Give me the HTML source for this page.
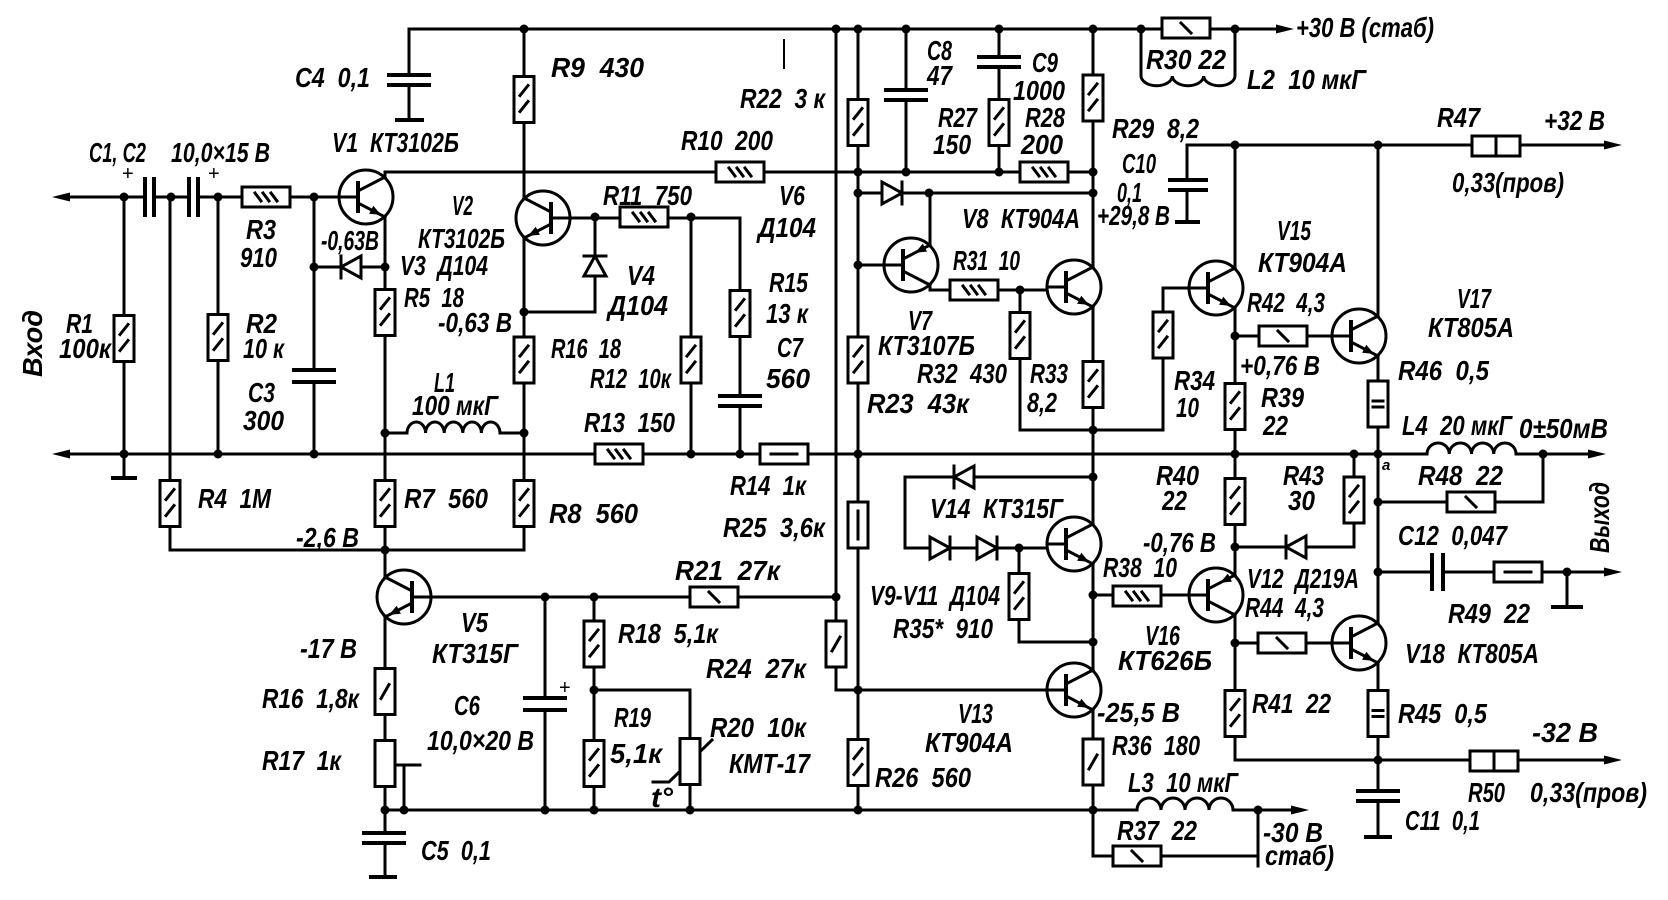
<!DOCTYPE html>
<html><head><meta charset="utf-8">
<style>
html,body{margin:0;padding:0;background:#fff;overflow:hidden;width:1668px;height:900px;}
svg{display:block}
.w{stroke:#000;stroke-width:3;fill:none;stroke-linecap:square}
.p{stroke:#000;stroke-width:4;fill:none}
.f{fill:#000;stroke:none}
.n{fill:#000;stroke:none}
text{font-family:"Liberation Sans","DejaVu Sans",sans-serif;font-style:italic;font-weight:bold;font-size:28px;fill:#000;stroke:none;white-space:pre}
</style></head>
<body>
<svg width="1668" height="900" viewBox="0 0 1668 900" xmlns="http://www.w3.org/2000/svg" xmlns:xlink="http://www.w3.org/1999/xlink">
<defs>
<g id="npn"><circle r="27" fill="none"/><path d="M-27,0H-8M-8,-6L19,-20M-8,6L19,20"/><path d="M-8,-14V14" stroke-width="4"/><polygon class="f" points="15,17.9 3.1,16.8 7.3,8.8"/></g>
<g id="pnp"><circle r="27" fill="none"/><path d="M-27,0H-8M-8,-6L19,-20M-8,6L19,20"/><path d="M-8,-14V14" stroke-width="4"/><polygon class="f" points="4.2,12.3 11.8,21.4 16,13.4"/></g>
<g id="rv"><rect x="-10" y="-23" width="20" height="46" fill="#fff"/></g>
<g id="rv2"><use href="#rv" xlink:href="#rv"/><path d="M-4,-4L4,-14M-4,12L4,2"/></g>
<g id="rv1"><use href="#rv" xlink:href="#rv"/><path d="M-4,7L4,-7"/></g>
<g id="rvI"><use href="#rv" xlink:href="#rv"/><path d="M0,-14V14"/></g>
<g id="rvE"><use href="#rv" xlink:href="#rv"/><path d="M-5,-3H5M-5,3H5"/></g>
<g id="rh"><rect x="-24" y="-10" width="48" height="20" fill="#fff"/></g>
<g id="rh3"><use href="#rh" xlink:href="#rh"/><path d="M-11,-4L-5,4M-3,-4L3,4M5,-4L11,4"/></g>
<g id="rh1"><use href="#rh" xlink:href="#rh"/><path d="M-5,-5L5,5"/></g>
<g id="rhI"><use href="#rh" xlink:href="#rh"/><path d="M0,-10V10"/></g>
<g id="rhL"><use href="#rh" xlink:href="#rh"/><path d="M-13,0H13"/></g>
<g id="dR"><polygon points="-10,-11 -10,11 10,0" fill="#fff"/><path d="M10,-11V11"/></g>
</defs>

<g class="w">
<!-- top rail -->
<path d="M409,29 H1276"/>
<!-- C4 -->
<path d="M409,29 V75 M409,85 V120"/>
<!-- R9 / V2 -->
<path d="M524,29 V198 M524,238 V550"/>
<path d="M524,312 H595 V218"/>
<path d="M570,218 H740 V396 M740,406 V454"/>
<path d="M691,218 V454"/>
<!-- input -->
<path d="M68,197 H145 M154,197 H189 M198,197 H339"/>
<path d="M124,197 V478"/>
<path d="M170,197 V550 H524"/>
<path d="M218,197 V454"/>
<path d="M314,197 V370 M314,382 V454"/>
<path d="M314,267 H385"/>
<!-- V1 -->
<path d="M385,177 V172 H1093"/>
<path d="M385,217 V577"/>
<path d="M385,433 H407 a9.3,11 0 0 1 18.6,0 a9.3,11 0 0 1 18.6,0 a9.3,11 0 0 1 18.6,0 a9.3,11 0 0 1 18.6,0 a9.3,11 0 0 1 18.6,0 H524"/>
<!-- V5 -->
<path d="M385,617 V810"/>
<path d="M395,765 H420 M404,765 V810"/>
<path d="M385,810 H1093"/>
<path d="M385,810 V833 M385,843 V877"/>
<path d="M431,597 H836"/>
<path d="M545,597 V698 M545,710 V810"/>
<path d="M594,597 V810"/>
<path d="M594,690 H690 V810"/>
<path d="M653,782 H669 L712,740"/>
<!-- verticals 836 / 858 -->
<path d="M836,29 V690 H858"/>
<path d="M858,29 V810"/>
<!-- middle rail -->
<path d="M68,454 H1427 a11.1,11 0 0 1 22.25,0 a11.1,11 0 0 1 22.25,0 a11.1,11 0 0 1 22.25,0 a11.1,11 0 0 1 22.25,0 H1590"/>
<!-- C8 C9 -->
<path d="M906,29 V90 M906,100 V172"/>
<path d="M999,29 V57 M999,67 V172"/>
<!-- R29 -->
<path d="M1093,29 V267"/>
<path d="M858,193 H1093"/>
<!-- V7 -->
<path d="M930,245 V193"/>
<path d="M858,265 H884"/>
<path d="M930,285 V290 H1047"/>
<path d="M1020,290 V430 H1163 V288 H1189"/>
<!-- V8 emitter chain to V14 -->
<path d="M1093,307 V524"/>
<path d="M1093,564 V670"/>
<path d="M1093,710 V856 H1258 V810 M1258,856 V866"/>
<path d="M1093,810 H1137 a12,12 0 0 1 24,0 a12,12 0 0 1 24,0 a12,12 0 0 1 24,0 a12,12 0 0 1 24,0 H1292"/>
<path d="M858,690 H1047"/>
<path d="M1093,477 H905 V548 H1047"/>
<path d="M1019,548 V642 H1093"/>
<path d="M1093,595 H1189"/>
<!-- +32 rail -->
<path d="M1187,180 V145 H1606"/>
<path d="M1187,190 V222"/>
<!-- V15 / V16 -->
<path d="M1235,145 V268 M1235,308 V575"/>
<path d="M1235,336 H1332"/>
<path d="M1378,145 V316 M1378,356 V623"/>
<path d="M1235,615 V760 H1606"/>
<path d="M1354,454 V547 H1235"/>
<path d="M1235,643 H1332"/>
<path d="M1378,663 V760 M1378,760 V791 M1378,801 V837"/>
<path d="M1378,502 H1543 V454"/>
<path d="M1378,572 H1432 M1443,572 H1606"/>
<path d="M1567,572 V607"/>
<!-- L2 -->
<path d="M1141,29 V76 a15.67,10 0 0 0 31.33,0 a15.67,10 0 0 0 31.33,0 a15.67,10 0 0 0 31.33,0 V29"/>
<!-- stray tick -->
<path d="M784,40 V68" stroke-width="2"/>
</g>

<!-- capacitor plates & grounds -->
<g class="p">
<path d="M387,75 H431 M387,85 H431 M395,120 H424"/>
<path d="M145,177 V217 M154,177 V217 M189,177 V217 M198,177 V217"/>
<path d="M111,478 H137"/>
<path d="M292,370 H336 M292,382 H336"/>
<path d="M718,396 H762 M718,406 H762"/>
<path d="M362,833 H406 M362,843 H406 M369,877 H397"/>
<path d="M523,698 H567 M523,710 H567"/>
<path d="M884,90 H928 M884,100 H928"/>
<path d="M977,57 H1021 M977,67 H1021"/>
<path d="M1168,180 H1208 M1168,190 H1208 M1175,222 H1200"/>
<path d="M1356,791 H1400 M1356,801 H1400 M1364,837 H1392"/>
<path d="M1432,553 V591 M1443,553 V591"/>
<path d="M1551,607 H1583"/>
</g>

<!-- arrows -->
<g class="f">
<polygon points="52,197 70,192.5 70,201.5"/>
<polygon points="52,454 70,449.5 70,458.5"/>
<polygon points="1606,454 1588,449.5 1588,458.5"/>
<polygon points="1294,29 1276,24.5 1276,33.5"/>
<polygon points="1622,145 1604,140.5 1604,149.5"/>
<polygon points="1622,572 1604,567.5 1604,576.5"/>
<polygon points="1622,760 1604,755.5 1604,764.5"/>
<polygon points="1309,810 1291,805.5 1291,814.5"/>
</g>

<!-- transistors -->
<g class="w">
<use href="#npn" xlink:href="#npn" transform="translate(366,197)"/>
<use href="#npn" xlink:href="#npn" transform="translate(543,218) scale(-1,1)"/>
<use href="#npn" xlink:href="#npn" transform="translate(404,597) scale(-1,1)"/>
<use href="#pnp" xlink:href="#pnp" transform="translate(911,265) scale(1,-1)"/>
<use href="#npn" xlink:href="#npn" transform="translate(1074,287)"/>
<use href="#npn" xlink:href="#npn" transform="translate(1216,288)"/>
<use href="#npn" xlink:href="#npn" transform="translate(1359,336)"/>
<use href="#npn" xlink:href="#npn" transform="translate(1074,544)"/>
<use href="#npn" xlink:href="#npn" transform="translate(1074,690)"/>
<use href="#pnp" xlink:href="#pnp" transform="translate(1216,595) scale(1,-1)"/>
<use href="#npn" xlink:href="#npn" transform="translate(1359,643)"/>
</g>

<!-- resistors -->
<g class="w">
<use href="#rv2" xlink:href="#rv2" transform="translate(124,338.5)"/>
<use href="#rv2" xlink:href="#rv2" transform="translate(218,337.5)"/>
<use href="#rv2" xlink:href="#rv2" transform="translate(170,503.5)"/>
<use href="#rv2" xlink:href="#rv2" transform="translate(385,312.5)"/>
<use href="#rv2" xlink:href="#rv2" transform="translate(385,503.5)"/>
<use href="#rv2" xlink:href="#rv2" transform="translate(524,99.5)"/>
<use href="#rv2" xlink:href="#rv2" transform="translate(524,360)"/>
<use href="#rv2" xlink:href="#rv2" transform="translate(524,503.5)"/>
<use href="#rv2" xlink:href="#rv2" transform="translate(691,360)"/>
<use href="#rv2" xlink:href="#rv2" transform="translate(740,313.5)"/>
<use href="#rv1" xlink:href="#rv1" transform="translate(385,691.5)"/>
<use href="#rv" xlink:href="#rv" transform="translate(385,763.5)"/>
<use href="#rv2" xlink:href="#rv2" transform="translate(594,644)"/>
<use href="#rv2" xlink:href="#rv2" transform="translate(594,763.5)"/>
<use href="#rv" xlink:href="#rv" transform="translate(690,761.5)"/>
<use href="#rv2" xlink:href="#rv2" transform="translate(858,122.5)"/>
<use href="#rv2" xlink:href="#rv2" transform="translate(858,360)"/>
<use href="#rv1" xlink:href="#rv1" transform="translate(836,644)"/>
<use href="#rvI" xlink:href="#rvI" transform="translate(858,525)"/>
<use href="#rv2" xlink:href="#rv2" transform="translate(858,762.5)"/>
<use href="#rv2" xlink:href="#rv2" transform="translate(999,122.5)"/>
<use href="#rv2" xlink:href="#rv2" transform="translate(1093,98)"/>
<use href="#rv2" xlink:href="#rv2" transform="translate(1020,335.5)"/>
<use href="#rv2" xlink:href="#rv2" transform="translate(1093,384.5)"/>
<use href="#rv2" xlink:href="#rv2" transform="translate(1163,335)"/>
<use href="#rv2" xlink:href="#rv2" transform="translate(1019,596.5)"/>
<use href="#rv1" xlink:href="#rv1" transform="translate(1093,762)"/>
<use href="#rv2" xlink:href="#rv2" transform="translate(1235,406.5)"/>
<use href="#rv2" xlink:href="#rv2" transform="translate(1235,501.5)"/>
<use href="#rv2" xlink:href="#rv2" transform="translate(1235,713.5)"/>
<use href="#rv2" xlink:href="#rv2" transform="translate(1354,500)"/>
<use href="#rvE" xlink:href="#rvE" transform="translate(1378,404)"/>
<use href="#rvE" xlink:href="#rvE" transform="translate(1378,713.5)"/>

<use href="#rh3" xlink:href="#rh3" transform="translate(266,197)"/>
<use href="#rh3" xlink:href="#rh3" transform="translate(740,172)"/>
<use href="#rh3" xlink:href="#rh3" transform="translate(644,217)"/>
<use href="#rh3" xlink:href="#rh3" transform="translate(619,454)"/>
<use href="#rhL" xlink:href="#rhL" transform="translate(784,454)"/>
<use href="#rh1" xlink:href="#rh1" transform="translate(714,597)"/>
<use href="#rh3" xlink:href="#rh3" transform="translate(1044,172)"/>
<use href="#rh1" xlink:href="#rh1" transform="translate(1186,28)"/>
<use href="#rh3" xlink:href="#rh3" transform="translate(974,290)"/>
<use href="#rh3" xlink:href="#rh3" transform="translate(1137,596)"/>
<use href="#rh1" xlink:href="#rh1" transform="translate(1283,336)"/>
<use href="#rh1" xlink:href="#rh1" transform="translate(1282,643)"/>
<use href="#rhI" xlink:href="#rhI" transform="translate(1496,146)"/>
<use href="#rh1" xlink:href="#rh1" transform="translate(1471,502)"/>
<use href="#rhL" xlink:href="#rhL" transform="translate(1518,572)"/>
<use href="#rhI" xlink:href="#rhI" transform="translate(1494,761)"/>
<use href="#rh1" xlink:href="#rh1" transform="translate(1137,856)"/>
</g>

<!-- diodes -->
<g class="w">
<use href="#dR" xlink:href="#dR" transform="translate(351,267) scale(-1,1)"/>
<use href="#dR" xlink:href="#dR" transform="translate(595,266) rotate(-90)"/>
<use href="#dR" xlink:href="#dR" transform="translate(892,193)"/>
<use href="#dR" xlink:href="#dR" transform="translate(964,477) scale(-1,1)"/>
<use href="#dR" xlink:href="#dR" transform="translate(940,548)"/>
<use href="#dR" xlink:href="#dR" transform="translate(987,548)"/>
<use href="#dR" xlink:href="#dR" transform="translate(1296,547) scale(-1,1)"/>
</g>

<!-- nodes -->
<g class="n">
<circle cx="124" cy="197" r="4.5"/><circle cx="171" cy="197" r="4.5"/><circle cx="218" cy="197" r="4.5"/><circle cx="314" cy="197" r="4.5"/>
<circle cx="314" cy="267" r="4.5"/><circle cx="385" cy="267" r="4.5"/>
<circle cx="524" cy="29" r="4.5"/><circle cx="836" cy="29" r="4.5"/><circle cx="858" cy="29" r="4.5"/><circle cx="906" cy="29" r="4.5"/><circle cx="999" cy="29" r="4.5"/><circle cx="1093" cy="29" r="4.5"/><circle cx="1141" cy="29" r="4.5"/><circle cx="1235" cy="29" r="4.5"/>
<circle cx="524" cy="312" r="4.5"/><circle cx="385" cy="433" r="4.5"/><circle cx="524" cy="433" r="4.5"/><circle cx="595" cy="217" r="4.5"/><circle cx="691" cy="217" r="4.5"/>
<circle cx="124" cy="454" r="4.5"/><circle cx="218" cy="454" r="4.5"/><circle cx="314" cy="454" r="4.5"/><circle cx="691" cy="454" r="4.5"/><circle cx="740" cy="454" r="4.5"/><circle cx="858" cy="454" r="4.5"/><circle cx="1235" cy="454" r="4.5"/><circle cx="1354" cy="454" r="4.5"/><circle cx="1378" cy="454" r="4.5"/><circle cx="1543" cy="454" r="4.5"/>
<circle cx="858" cy="172" r="4.5"/><circle cx="906" cy="172" r="4.5"/><circle cx="999" cy="172" r="4.5"/><circle cx="1093" cy="172" r="4.5"/><circle cx="858" cy="193" r="4.5"/><circle cx="929" cy="193" r="4.5"/><circle cx="1093" cy="193" r="4.5"/><circle cx="858" cy="265" r="4.5"/><circle cx="1020" cy="290" r="4.5"/><circle cx="1093" cy="430" r="4.5"/>
<circle cx="1235" cy="145" r="4.5"/><circle cx="1378" cy="145" r="4.5"/><circle cx="1235" cy="336" r="4.5"/>
<circle cx="385" cy="550" r="4.5"/><circle cx="545" cy="597" r="4.5"/><circle cx="594" cy="597" r="4.5"/><circle cx="836" cy="597" r="4.5"/><circle cx="594" cy="690" r="4.5"/><circle cx="858" cy="690" r="4.5"/>
<circle cx="385" cy="810" r="4.5"/><circle cx="404" cy="810" r="4.5"/><circle cx="545" cy="810" r="4.5"/><circle cx="594" cy="810" r="4.5"/><circle cx="690" cy="810" r="4.5"/><circle cx="858" cy="810" r="4.5"/><circle cx="1093" cy="810" r="4.5"/><circle cx="1258" cy="810" r="4.5"/>
<circle cx="1093" cy="477" r="4.5"/><circle cx="1019" cy="548" r="4.5"/><circle cx="1093" cy="595" r="4.5"/><circle cx="1093" cy="642" r="4.5"/><circle cx="1235" cy="547" r="4.5"/><circle cx="1235" cy="643" r="4.5"/><circle cx="1378" cy="502" r="4.5"/><circle cx="1378" cy="572" r="4.5"/><circle cx="1567" cy="572" r="4.5"/><circle cx="1378" cy="760" r="4.5"/>
</g>

<!-- labels -->
<g lengthAdjust="spacingAndGlyphs">
<text x="295" y="87" textLength="75" lengthAdjust="spacingAndGlyphs">C4  0,1</text>
<text x="551" y="77" textLength="93" lengthAdjust="spacingAndGlyphs">R9  430</text>
<text x="740" y="108" textLength="85" lengthAdjust="spacingAndGlyphs">R22  3 к</text>
<text x="927" y="60" textLength="25" lengthAdjust="spacingAndGlyphs">C8</text>
<text x="927" y="85" textLength="25" lengthAdjust="spacingAndGlyphs">47</text>
<text x="1032" y="72" textLength="26" lengthAdjust="spacingAndGlyphs">C9</text>
<text x="1013" y="100" textLength="52" lengthAdjust="spacingAndGlyphs">1000</text>
<text x="938" y="127" textLength="39" lengthAdjust="spacingAndGlyphs">R27</text>
<text x="933" y="154" textLength="38" lengthAdjust="spacingAndGlyphs">150</text>
<text x="1025" y="127" textLength="40" lengthAdjust="spacingAndGlyphs">R28</text>
<text x="1021" y="154" textLength="42" lengthAdjust="spacingAndGlyphs">200</text>
<text x="1112" y="138" textLength="87" lengthAdjust="spacingAndGlyphs">R29  8,2</text>
<text x="1146" y="69" textLength="80" lengthAdjust="spacingAndGlyphs">R30 22</text>
<text x="1247" y="89" textLength="119" lengthAdjust="spacingAndGlyphs">L2  10 мкГ</text>
<text x="1296" y="37" textLength="138" lengthAdjust="spacingAndGlyphs">+30 В (стаб)</text>
<text x="1437" y="127" textLength="43" lengthAdjust="spacingAndGlyphs">R47</text>
<text x="1544" y="130" textLength="61" lengthAdjust="spacingAndGlyphs">+32 В</text>
<text x="1452" y="192" textLength="112" lengthAdjust="spacingAndGlyphs">0,33(пров)</text>
<text x="1122" y="173" textLength="34" lengthAdjust="spacingAndGlyphs">C10</text>
<text x="1117" y="202" textLength="25" lengthAdjust="spacingAndGlyphs">0,1</text>
<text x="1097" y="225" textLength="73" lengthAdjust="spacingAndGlyphs">+29,8 В</text>
<text x="332" y="152" textLength="127" lengthAdjust="spacingAndGlyphs">V1  КТ3102Б</text>
<text x="89" y="162" textLength="57" lengthAdjust="spacingAndGlyphs">C1, C2</text>
<text x="171" y="162" textLength="99" lengthAdjust="spacingAndGlyphs">10,0×15 В</text>
<text x="122" y="180" style="font-size:20px;font-weight:normal;font-style:normal">+</text>
<text x="208" y="180" style="font-size:20px;font-weight:normal;font-style:normal">+</text>
<text x="246" y="239" textLength="30" lengthAdjust="spacingAndGlyphs">R3</text>
<text x="240" y="267" textLength="37" lengthAdjust="spacingAndGlyphs">910</text>
<text x="321" y="250" textLength="58" lengthAdjust="spacingAndGlyphs">-0,63В</text>
<text x="452" y="215" textLength="21" lengthAdjust="spacingAndGlyphs">V2</text>
<text x="418" y="248" textLength="87" lengthAdjust="spacingAndGlyphs">КТ3102Б</text>
<text x="400" y="275" textLength="88" lengthAdjust="spacingAndGlyphs">V3  Д104</text>
<text x="404" y="307" textLength="60" lengthAdjust="spacingAndGlyphs">R5  18</text>
<text x="438" y="332" textLength="74" lengthAdjust="spacingAndGlyphs">-0,63 В</text>
<text x="66" y="333" textLength="27" lengthAdjust="spacingAndGlyphs">R1</text>
<text x="59" y="358" textLength="52" lengthAdjust="spacingAndGlyphs">100к</text>
<text x="246" y="333" textLength="31" lengthAdjust="spacingAndGlyphs">R2</text>
<text x="243" y="358" textLength="41" lengthAdjust="spacingAndGlyphs">10 к</text>
<text x="248" y="402" textLength="27" lengthAdjust="spacingAndGlyphs">C3</text>
<text x="243" y="430" textLength="41" lengthAdjust="spacingAndGlyphs">300</text>
<text x="434" y="392" textLength="21" lengthAdjust="spacingAndGlyphs">L1</text>
<text x="412" y="415" textLength="86" lengthAdjust="spacingAndGlyphs">100 мкГ</text>
<text x="681" y="150" textLength="92" lengthAdjust="spacingAndGlyphs">R10  200</text>
<text x="603" y="205" textLength="89" lengthAdjust="spacingAndGlyphs">R11  750</text>
<text x="779" y="205" textLength="26" lengthAdjust="spacingAndGlyphs">V6</text>
<text x="758" y="237" textLength="58" lengthAdjust="spacingAndGlyphs">Д104</text>
<text x="627" y="285" textLength="28" lengthAdjust="spacingAndGlyphs">V4</text>
<text x="608" y="315" textLength="60" lengthAdjust="spacingAndGlyphs">Д104</text>
<text x="769" y="292" textLength="39" lengthAdjust="spacingAndGlyphs">R15</text>
<text x="766" y="323" textLength="42" lengthAdjust="spacingAndGlyphs">13 к</text>
<text x="777" y="357" textLength="26" lengthAdjust="spacingAndGlyphs">C7</text>
<text x="766" y="388" textLength="44" lengthAdjust="spacingAndGlyphs">560</text>
<text x="551" y="358" textLength="70" lengthAdjust="spacingAndGlyphs">R16  18</text>
<text x="590" y="388" textLength="81" lengthAdjust="spacingAndGlyphs">R12  10к</text>
<text x="584" y="432" textLength="91" lengthAdjust="spacingAndGlyphs">R13  150</text>
<text x="962" y="228" textLength="118" lengthAdjust="spacingAndGlyphs">V8  КТ904А</text>
<text x="953" y="270" textLength="67" lengthAdjust="spacingAndGlyphs">R31  10</text>
<text x="908" y="330" textLength="24" lengthAdjust="spacingAndGlyphs">V7</text>
<text x="878" y="355" textLength="97" lengthAdjust="spacingAndGlyphs">КТ3107Б</text>
<text x="917" y="383" textLength="90" lengthAdjust="spacingAndGlyphs">R32  430</text>
<text x="1030" y="383" textLength="38" lengthAdjust="spacingAndGlyphs">R33</text>
<text x="1027" y="412" textLength="30" lengthAdjust="spacingAndGlyphs">8,2</text>
<text x="867" y="413" textLength="102" lengthAdjust="spacingAndGlyphs">R23  43к</text>
<text x="1277" y="240" textLength="34" lengthAdjust="spacingAndGlyphs">V15</text>
<text x="1258" y="272" textLength="89" lengthAdjust="spacingAndGlyphs">КТ904А</text>
<text x="1247" y="312" textLength="78" lengthAdjust="spacingAndGlyphs">R42  4,3</text>
<text x="1457" y="308" textLength="34" lengthAdjust="spacingAndGlyphs">V17</text>
<text x="1428" y="337" textLength="86" lengthAdjust="spacingAndGlyphs">КТ805А</text>
<text x="1240" y="375" textLength="80" lengthAdjust="spacingAndGlyphs">+0,76 В</text>
<text x="1398" y="380" textLength="91" lengthAdjust="spacingAndGlyphs">R46  0,5</text>
<text x="1174" y="390" textLength="41" lengthAdjust="spacingAndGlyphs">R34</text>
<text x="1176" y="417" textLength="23" lengthAdjust="spacingAndGlyphs">10</text>
<text x="1261" y="407" textLength="43" lengthAdjust="spacingAndGlyphs">R39</text>
<text x="1263" y="435" textLength="25" lengthAdjust="spacingAndGlyphs">22</text>
<text x="1402" y="435" textLength="110" lengthAdjust="spacingAndGlyphs">L4  20 мкГ</text>
<text x="1519" y="438" textLength="89" lengthAdjust="spacingAndGlyphs">0±50мВ</text>
<text x="1382" y="470" style="font-size:15px">а</text>
<text x="198" y="508" textLength="73" lengthAdjust="spacingAndGlyphs">R4  1М</text>
<text x="404" y="508" textLength="84" lengthAdjust="spacingAndGlyphs">R7  560</text>
<text x="549" y="523" textLength="89" lengthAdjust="spacingAndGlyphs">R8  560</text>
<text x="730" y="495" textLength="76" lengthAdjust="spacingAndGlyphs">R14  1к</text>
<text x="723" y="537" textLength="102" lengthAdjust="spacingAndGlyphs">R25  3,6к</text>
<text x="296" y="547" textLength="63" lengthAdjust="spacingAndGlyphs">-2,6 В</text>
<text x="675" y="580" textLength="105" lengthAdjust="spacingAndGlyphs">R21  27к</text>
<text x="461" y="632" textLength="27" lengthAdjust="spacingAndGlyphs">V5</text>
<text x="432" y="663" textLength="86" lengthAdjust="spacingAndGlyphs">КТ315Г</text>
<text x="300" y="658" textLength="57" lengthAdjust="spacingAndGlyphs">-17 В</text>
<text x="618" y="643" textLength="100" lengthAdjust="spacingAndGlyphs">R18  5,1к</text>
<text x="706" y="678" textLength="100" lengthAdjust="spacingAndGlyphs">R24  27к</text>
<text x="262" y="708" textLength="97" lengthAdjust="spacingAndGlyphs">R16  1,8к</text>
<text x="454" y="715" textLength="26" lengthAdjust="spacingAndGlyphs">C6</text>
<text x="427" y="750" textLength="107" lengthAdjust="spacingAndGlyphs">10,0×20 В</text>
<text x="559" y="694" style="font-size:20px;font-weight:normal;font-style:normal">+</text>
<text x="262" y="770" textLength="79" lengthAdjust="spacingAndGlyphs">R17  1к</text>
<text x="614" y="727" textLength="37" lengthAdjust="spacingAndGlyphs">R19</text>
<text x="610" y="763" textLength="52" lengthAdjust="spacingAndGlyphs">5,1к</text>
<text x="710" y="737" textLength="96" lengthAdjust="spacingAndGlyphs">R20  10к</text>
<text x="729" y="773" textLength="81" lengthAdjust="spacingAndGlyphs">КМТ-17</text>
<text x="651" y="807" textLength="22" lengthAdjust="spacingAndGlyphs">t°</text>
<text x="875" y="787" textLength="96" lengthAdjust="spacingAndGlyphs">R26  560</text>
<text x="421" y="860" textLength="70" lengthAdjust="spacingAndGlyphs">C5  0,1</text>
<text x="930" y="518" textLength="133" lengthAdjust="spacingAndGlyphs">V14  КТ315Г</text>
<text x="870" y="605" textLength="130" lengthAdjust="spacingAndGlyphs">V9-V11  Д104</text>
<text x="893" y="638" textLength="100" lengthAdjust="spacingAndGlyphs">R35*  910</text>
<text x="958" y="723" textLength="35" lengthAdjust="spacingAndGlyphs">V13</text>
<text x="925" y="752" textLength="88" lengthAdjust="spacingAndGlyphs">КТ904А</text>
<text x="1097" y="722" textLength="83" lengthAdjust="spacingAndGlyphs">-25,5 В</text>
<text x="1112" y="755" textLength="88" lengthAdjust="spacingAndGlyphs">R36  180</text>
<text x="1103" y="577" textLength="74" lengthAdjust="spacingAndGlyphs">R38  10</text>
<text x="1145" y="645" textLength="35" lengthAdjust="spacingAndGlyphs">V16</text>
<text x="1118" y="670" textLength="94" lengthAdjust="spacingAndGlyphs">КТ626Б</text>
<text x="1156" y="485" textLength="43" lengthAdjust="spacingAndGlyphs">R40</text>
<text x="1162" y="510" textLength="25" lengthAdjust="spacingAndGlyphs">22</text>
<text x="1283" y="485" textLength="41" lengthAdjust="spacingAndGlyphs">R43</text>
<text x="1288" y="510" textLength="27" lengthAdjust="spacingAndGlyphs">30</text>
<text x="1143" y="552" textLength="73" lengthAdjust="spacingAndGlyphs">-0,76 В</text>
<text x="1247" y="588" textLength="112" lengthAdjust="spacingAndGlyphs">V12  Д219А</text>
<text x="1245" y="617" textLength="79" lengthAdjust="spacingAndGlyphs">R44  4,3</text>
<text x="1418" y="485" textLength="85" lengthAdjust="spacingAndGlyphs">R48  22</text>
<text x="1398" y="545" textLength="109" lengthAdjust="spacingAndGlyphs">C12  0,047</text>
<text x="1448" y="623" textLength="82" lengthAdjust="spacingAndGlyphs">R49  22</text>
<text x="1405" y="663" textLength="134" lengthAdjust="spacingAndGlyphs">V18  КТ805А</text>
<text x="1252" y="713" textLength="79" lengthAdjust="spacingAndGlyphs">R41  22</text>
<text x="1398" y="723" textLength="89" lengthAdjust="spacingAndGlyphs">R45  0,5</text>
<text x="1532" y="742" textLength="66" lengthAdjust="spacingAndGlyphs">-32 В</text>
<text x="1468" y="802" textLength="37" lengthAdjust="spacingAndGlyphs">R50</text>
<text x="1530" y="802" textLength="117" lengthAdjust="spacingAndGlyphs">0,33(пров)</text>
<text x="1405" y="830" textLength="75" lengthAdjust="spacingAndGlyphs">C11  0,1</text>
<text x="1128" y="792" textLength="110" lengthAdjust="spacingAndGlyphs">L3  10 мкГ</text>
<text x="1117" y="840" textLength="80" lengthAdjust="spacingAndGlyphs">R37  22</text>
<text x="1263" y="842" textLength="60" lengthAdjust="spacingAndGlyphs">-30 В</text>
<text x="1265" y="865" textLength="69" lengthAdjust="spacingAndGlyphs">стаб)</text>
<text transform="translate(42,377) rotate(-90)" x="0" y="0" textLength="67" lengthAdjust="spacingAndGlyphs">Вход</text>
<text transform="translate(1609,553) rotate(-90)" x="0" y="0" textLength="71" lengthAdjust="spacingAndGlyphs">Выход</text>
</g>
</svg>
</body></html>
